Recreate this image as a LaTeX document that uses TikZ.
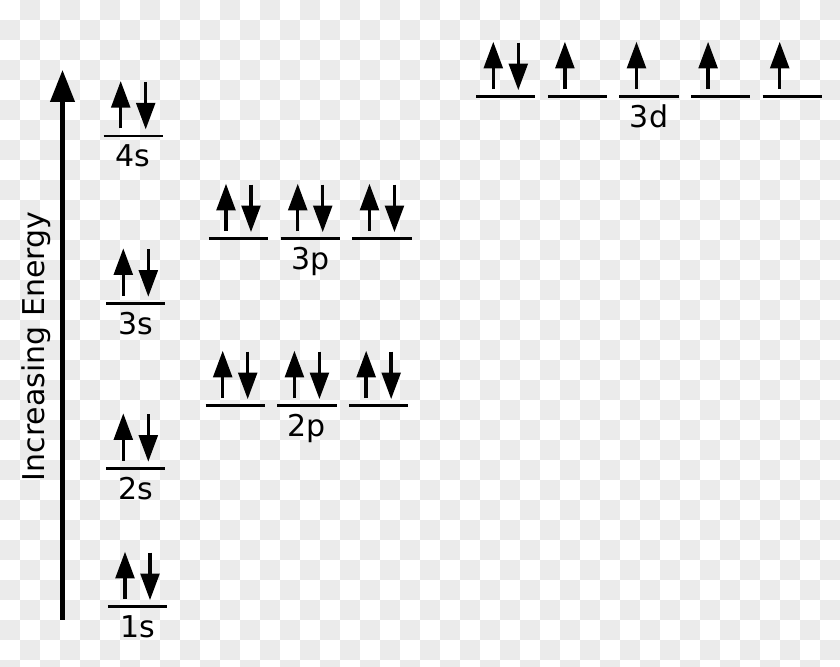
\documentclass[tikz,border=0pt]{standalone}
\usepackage{fontspec}
\setmainfont{DejaVu Sans}
\usetikzlibrary{arrows.meta,positioning,calc}
\definecolor{checker}{HTML}{EBEBEB}

\begin{document}
\begin{tikzpicture}[x=0.75pt,y=0.75pt,
                    orbital/.style={minimum width=44pt,minimum height=0pt,inner sep=0pt},
                    bar/.style={line width=2.2pt},
                    spin/.style={line width=2.6pt,-{Triangle[length=20pt,width=14pt]}},
                    energy axis/.style={line width=3.2pt,-{Triangle[length=24pt,width=18pt]}},
                    big font/.style={font=\fontsize{22.5}{27}\selectfont},
                    tag/.style={big font,inner sep=0pt,text height=16.4pt,below=6.4pt of #1}]
  \useasboundingbox (0,0) rectangle (840,667);
  % transparency pattern
  \begin{scope}
    \clip (0,0) rectangle (840,667);
    \fill[white] (0,0) rectangle (840,667);
    \foreach \i in {0,...,41}
      \foreach \j in {0,...,33} {
        \pgfmathtruncatemacro\odd{mod(\i+\j,2)}
        \ifnum\odd=1 \fill[checker] (20*\i,667-20*\j) rectangle ++(20,-20); \fi
      }
  \end{scope}

  % energy axis
  \coordinate (low) at (62.5,47);
  \coordinate (high) at (62.5,597);
  \draw[energy axis] (low) -- (high);
  \node[big font,rotate=90,anchor=base] (energy) at (44.3,320.5) {Increasing Energy};

  % levels
  \node[orbital] (1s) at (137.5,60.3) {};
  \node[orbital] (2s) at (135.8,198.7) {};
  \node[orbital] (3s) at (135.8,363.7) {};
  \node[orbital] (4s) at (133.2,531) {};
  \node[orbital] (2pa) at (235.2,261.3) {};
  \node[orbital] (2pb) [right=9.4pt of 2pa] {};
  \node[orbital] (2pc) [right=9.4pt of 2pb] {};
  \node[orbital] (3pa) at (238.5,428.3) {};
  \node[orbital] (3pb) [right=9.4pt of 3pa] {};
  \node[orbital] (3pc) [right=9.4pt of 3pb] {};
  \node[orbital] (3da) at (505.8,570.3) {};
  \node[orbital] (3db) [right=9.3pt of 3da] {};
  \node[orbital] (3dc) [right=9.3pt of 3db] {};
  \node[orbital] (3dd) [right=9.3pt of 3dc] {};
  \node[orbital] (3de) [right=9.3pt of 3dd] {};

  \foreach \n in {1s,2s,3s,4s,2pa,2pb,2pc,3pa,3pb,3pc,3da,3db,3dc,3dd,3de}
    \draw[bar] (\n.west) -- (\n.east);

  % electrons
  \foreach \n in {1s,2s,3s,4s,2pa,2pb,2pc,3pa,3pb,3pc,3da} {
    \draw[spin] ($(\n)+(-12.5,7.5)$) -- ++(0,47.5);
    \draw[spin] ($(\n)+(12.5,54)$) -- ++(0,-47.5);
  }
  \foreach \n in {3db,3dc,3dd,3de}
    \draw[spin] ($(\n)+(-12.5,7.5)$) -- ++(0,47.5);

  % labels
  \node[tag=1s] (l1s) {1s};
  \node[tag=2s] (l2s) {2s};
  \node[tag=3s] (l3s) {3s};
  \node[tag=4s] (l4s) {4s};
  \node[tag=2pb] (l2p) {2p};
  \node[tag=3pb] (l3p) {3p};
  \node[tag=3dc] (l3d) {3d};
\end{tikzpicture}
\end{document}
